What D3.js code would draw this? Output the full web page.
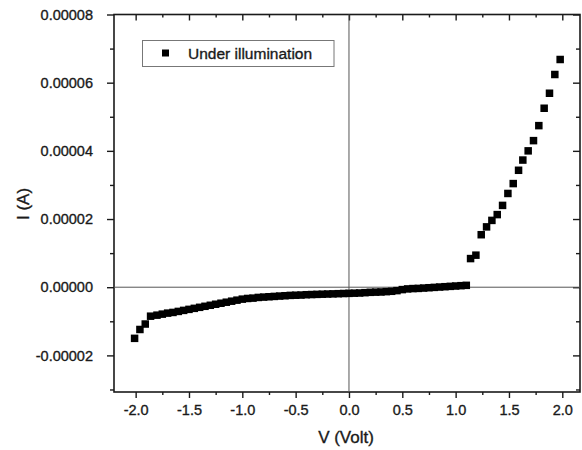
<!DOCTYPE html>
<html>
<head>
<meta charset="utf-8">
<script src="https://cdn.jsdelivr.net/npm/d3@7"></script>
<style>
  html, body { margin: 0; padding: 0; background: #fff; }
  svg { display: block; font-family: "Liberation Sans", Arial, Helvetica, sans-serif; }
  svg text { stroke: #1a1a1a; stroke-width: 0.35px; }
</style>
</head>
<body>
<svg id="chart" width="582" height="450"></svg>
<script>
// ---- data ----
const voltage = [
  -2.01, -1.96, -1.91, -1.86, -1.80, -1.75, -1.70, -1.65, -1.60, -1.55,
  -1.50, -1.45, -1.40, -1.35, -1.30, -1.25, -1.20, -1.15, -1.10, -1.05,
  -1.00, -0.95, -0.90, -0.85, -0.80, -0.75, -0.70, -0.65, -0.60, -0.55,
  -0.50, -0.45, -0.40, -0.35, -0.30, -0.25, -0.20, -0.15, -0.10, -0.05,
   0.00,  0.05,  0.10,  0.15,  0.20,  0.25,  0.30,  0.35,  0.40,  0.45,
   0.50,  0.55,  0.60,  0.65,  0.70,  0.75,  0.80,  0.85,  0.90,  0.95,
   1.00,  1.05,  1.10,
   1.14,  1.19,  1.24,  1.29,  1.34,  1.39,  1.44,  1.49,  1.54,  1.59,
   1.63,  1.68,  1.73,  1.78,  1.83,  1.88,  1.93,  1.98
];
const currentMicroA = [
  -15.0, -12.4, -10.8, -8.5, -8.2, -7.9, -7.6, -7.4, -7.1, -6.8,
  -6.5, -6.2, -5.9, -5.6, -5.3, -5.0, -4.7, -4.4, -4.1, -3.8,
  -3.5, -3.3, -3.2, -3.0, -2.9, -2.8, -2.7, -2.6, -2.5, -2.4,
  -2.35, -2.3, -2.2, -2.15, -2.1, -2.05, -2.0, -1.95, -1.9, -1.85,
  -1.8, -1.75, -1.7, -1.6, -1.5, -1.45, -1.4, -1.3, -1.2, -1.0,
  -0.7, -0.5, -0.4, -0.35, -0.25, -0.15, -0.05, 0.05, 0.15, 0.25,
   0.35, 0.45, 0.55,
   8.4, 9.4, 15.4, 17.7, 19.6, 21.3, 24.0, 27.5, 30.4, 34.3,
  37.3, 40.0, 43.0, 47.4, 52.5, 56.9, 62.4, 66.8
];
const xMajorTicks = [-2.0, -1.5, -1.0, -0.5, 0.0, 0.5, 1.0, 1.5, 2.0];
const xMinorTicks = [-1.75, -1.25, -0.75, -0.25, 0.25, 0.75, 1.25, 1.75];
const yMajorTicks = [-0.00002, 0, 0.00002, 0.00004, 0.00006, 0.00008];
const yMinorTicks = [-0.00003, -0.00001, 0.00001, 0.00003, 0.00005, 0.00007];
const seriesName = "Under illumination";
const xTitle = "V (Volt)";
const yTitle = "I (A)";

const data = voltage.map((v, i) => ({ v: v, i: currentMicroA[i] * 1e-6 }));

// ---- layout ----
const mLeft = 114, mRight = 580, mTop = 14.5, mBottom = 392;
const svg = d3.select("#chart");

const x = d3.scaleLinear().domain([-2.203, 2.166]).range([mLeft, mRight]);
const y = d3.scaleLinear().domain([-0.00003074, 0.00008]).range([mBottom, mTop]);

const ink = "#1a1a1a";

function styleAxis(g) {
  g.select(".domain").remove();
  g.selectAll(".tick line").attr("stroke", ink).attr("stroke-width", 1.4);
  g.selectAll(".tick text").attr("fill", ink).attr("font-size", "14.5px");
}

const yMinorVisible = yMinorTicks.filter(d => d > y.domain()[0]);

// bottom axis
svg.append("g").attr("transform", `translate(0,${mBottom})`)
  .call(d3.axisBottom(x).tickValues(xMajorTicks).tickSize(6).tickPadding(7)
    .tickFormat(d => d.toFixed(1)))
  .call(styleAxis);
svg.append("g").attr("transform", `translate(0,${mBottom})`)
  .call(d3.axisBottom(x).tickValues(xMinorTicks).tickSize(3).tickFormat(""))
  .call(styleAxis);
// top axis (inward ticks)
svg.append("g").attr("transform", `translate(0,${mTop})`)
  .call(d3.axisTop(x).tickValues(xMajorTicks).tickSize(-6).tickFormat(""))
  .call(styleAxis);
svg.append("g").attr("transform", `translate(0,${mTop})`)
  .call(d3.axisTop(x).tickValues(xMinorTicks).tickSize(-3).tickFormat(""))
  .call(styleAxis);
// left axis
svg.append("g").attr("transform", `translate(${mLeft},0)`)
  .call(d3.axisLeft(y).tickValues(yMajorTicks).tickSize(7).tickPadding(14)
    .tickFormat(d => d.toFixed(5)))
  .call(styleAxis);
svg.append("g").attr("transform", `translate(${mLeft},0)`)
  .call(d3.axisLeft(y).tickValues(yMinorVisible).tickSize(4).tickFormat(""))
  .call(styleAxis);
// right axis (inward ticks)
svg.append("g").attr("transform", `translate(${mRight},0)`)
  .call(d3.axisRight(y).tickValues(yMajorTicks).tickSize(-7).tickFormat(""))
  .call(styleAxis);
svg.append("g").attr("transform", `translate(${mRight},0)`)
  .call(d3.axisRight(y).tickValues(yMinorVisible).tickSize(-4).tickFormat(""))
  .call(styleAxis);

// frame
svg.append("rect")
  .attr("x", mLeft).attr("y", mTop)
  .attr("width", mRight - mLeft).attr("height", mBottom - mTop)
  .attr("fill", "none").attr("stroke", ink).attr("stroke-width", 1.6);

// zero reference lines
svg.append("line")
  .attr("x1", mLeft).attr("x2", mRight).attr("y1", y(0)).attr("y2", y(0))
  .attr("stroke", "#555").attr("stroke-width", 1);
svg.append("line")
  .attr("x1", x(0)).attr("x2", x(0)).attr("y1", mTop).attr("y2", mBottom)
  .attr("stroke", "#555").attr("stroke-width", 1);

// markers
const s = 7.5;
svg.append("g").selectAll("rect").data(data).join("rect")
  .attr("x", d => x(d.v) - s / 2)
  .attr("y", d => y(d.i) - s / 2)
  .attr("width", s).attr("height", s)
  .attr("fill", "#000");

// legend
const lg = svg.append("g");
lg.append("rect").attr("x", 142.5).attr("y", 40.5).attr("width", 191.5).attr("height", 26)
  .attr("fill", "#fff").attr("stroke", "#777").attr("stroke-width", 1);
lg.append("rect").attr("x", 162).attr("y", 49.5).attr("width", 7).attr("height", 7).attr("fill", "#000");
lg.append("text").attr("x", 188).attr("y", 59).attr("font-size", "15.5px").attr("fill", ink)
  .text(seriesName);

// axis titles
svg.append("text").attr("x", 346).attr("y", 443).attr("text-anchor", "middle")
  .attr("font-size", "17px").attr("fill", ink).text(xTitle);
svg.append("text").attr("transform", "translate(29,204) rotate(-90)")
  .attr("text-anchor", "middle").attr("font-size", "17px").attr("fill", ink).text(yTitle);
</script>
</body>
</html>
